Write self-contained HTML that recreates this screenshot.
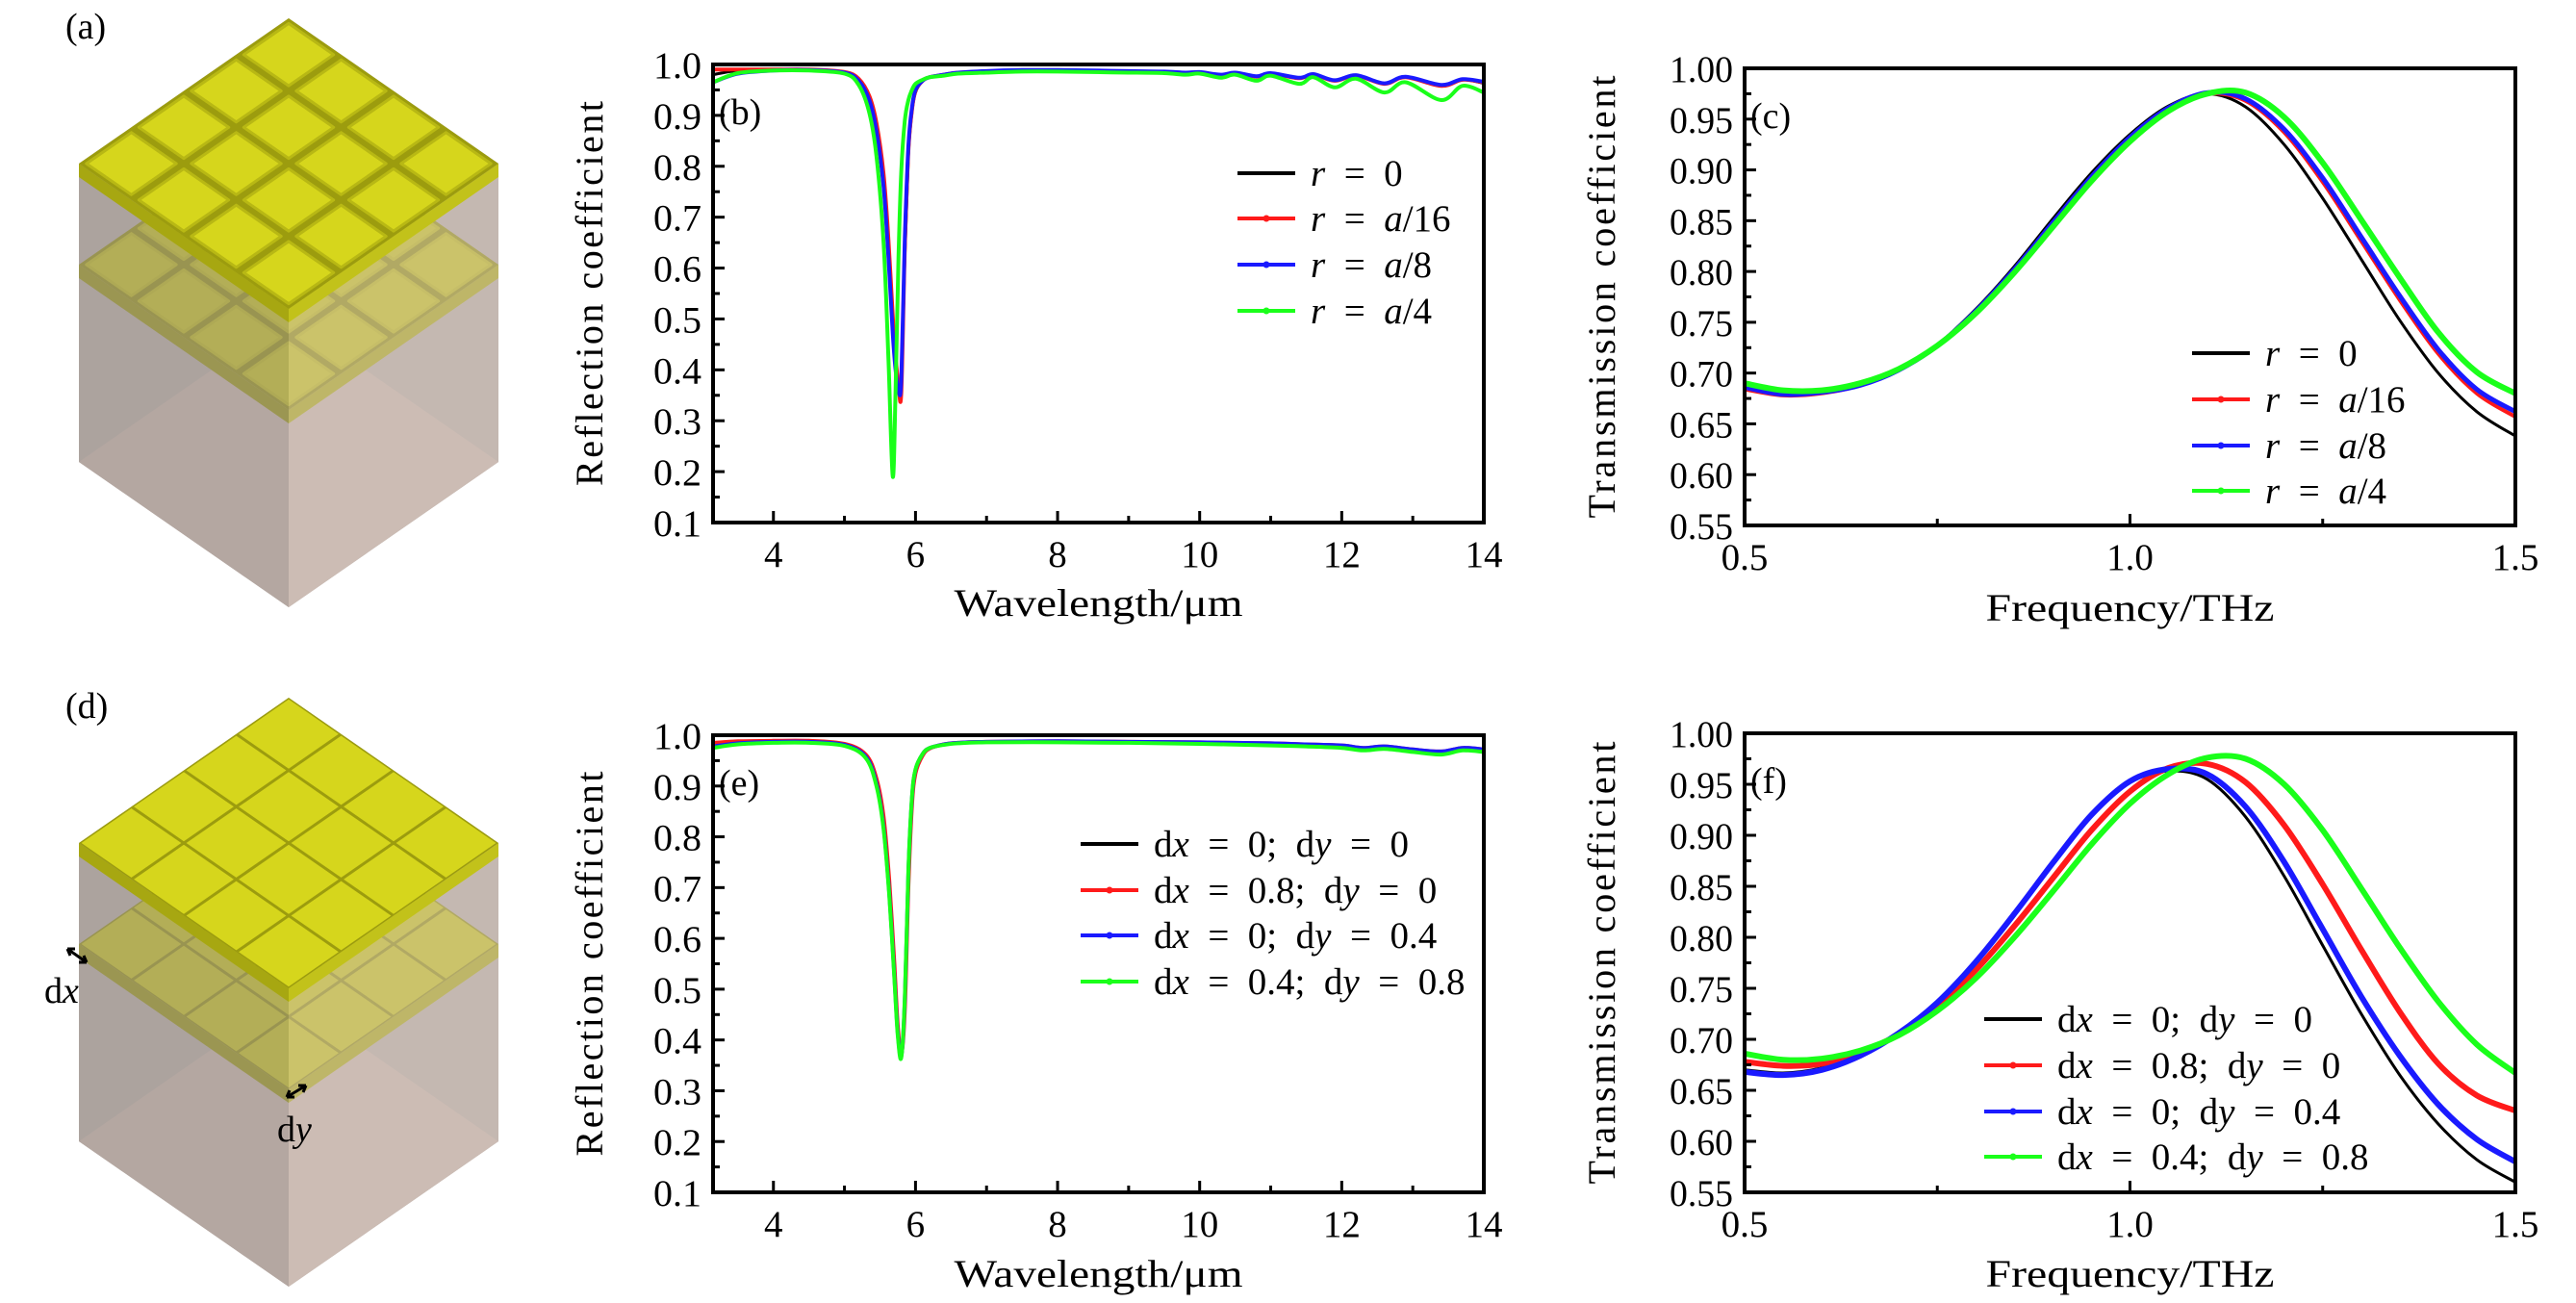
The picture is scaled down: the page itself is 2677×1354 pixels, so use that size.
<!DOCTYPE html>
<html><head><meta charset="utf-8"><style>
html,body{margin:0;padding:0;background:#fff}
svg{display:block}
text{font-family:"Liberation Serif","DejaVu Serif",serif;fill:#000}
</style></head><body>
<svg id="fig" width="2677" height="1354" viewBox="0 0 2677 1354" xmlns="http://www.w3.org/2000/svg">
<g id="illus"></g>
<g id="plots"></g>
</svg>
<script>
// ---------- data ----------
const wlB = [3.15,3.5,4,4.5,5,5.2,5.35,5.45,5.55,5.62,5.68,5.72,5.76,5.8,5.85,5.9,5.95,6.0,6.1,6.2,6.4,6.6,7,7.5,8,8.5,9,9.5,9.8,10,10.3,10.5,10.8,11,11.4,11.6,11.9,12.2,12.6,12.9,13.4,13.7,14];
const rB_r0   = [0.980,0.988,0.990,0.990,0.985,0.970,0.935,0.880,0.780,0.650,0.500,0.420,0.370,0.360,0.620,0.820,0.905,0.945,0.968,0.975,0.980,0.984,0.986,0.988,0.988,0.987,0.986,0.985,0.983,0.984,0.979,0.983,0.976,0.982,0.973,0.980,0.968,0.978,0.962,0.975,0.958,0.970,0.963];
const rB_r16  = [0.990,0.990,0.990,0.990,0.985,0.972,0.938,0.885,0.785,0.655,0.505,0.425,0.372,0.355,0.640,0.830,0.910,0.948,0.968,0.975,0.980,0.984,0.986,0.988,0.988,0.987,0.986,0.985,0.983,0.984,0.979,0.983,0.976,0.982,0.973,0.980,0.968,0.978,0.962,0.975,0.958,0.970,0.965];
const rB_r8   = [0.965,0.982,0.988,0.989,0.984,0.968,0.930,0.870,0.760,0.620,0.470,0.400,0.360,0.380,0.660,0.840,0.915,0.950,0.968,0.975,0.980,0.984,0.987,0.989,0.989,0.988,0.987,0.986,0.984,0.985,0.980,0.984,0.977,0.983,0.974,0.981,0.969,0.979,0.963,0.976,0.960,0.971,0.966];
const rB_r4   = [0.965,0.983,0.988,0.988,0.982,0.960,0.905,0.820,0.650,0.420,0.190,0.360,0.620,0.790,0.890,0.930,0.950,0.962,0.970,0.975,0.978,0.982,0.984,0.986,0.986,0.985,0.984,0.983,0.980,0.982,0.974,0.980,0.968,0.978,0.962,0.975,0.955,0.972,0.945,0.965,0.930,0.958,0.945];

const fC = [0.5,0.55,0.6,0.65,0.7,0.75,0.8,0.85,0.9,0.95,1.0,1.05,1.1,1.15,1.2,1.25,1.3,1.35,1.4,1.45,1.5];
const tC_r0  = [.685,.679,.680,.688,.703,.728,.763,.805,.852,.897,.935,.963,.975,.962,.925,.872,.812,.752,.700,.662,.638];
const tC_r16 = [.684,.678,.680,.688,.703,.727,.761,.802,.848,.893,.932,.961,.975,.968,.937,.888,.830,.772,.719,.680,.657];
const tC_r8  = [.686,.679,.681,.688,.703,.727,.761,.802,.848,.893,.932,.961,.976,.970,.940,.892,.834,.776,.723,.684,.662];
const tC_r4  = [.690,.683,.683,.690,.704,.727,.759,.799,.844,.889,.928,.958,.975,.976,.952,.907,.851,.794,.740,.701,.680];

const wlE = [3.15,3.5,4,4.5,5,5.3,5.45,5.55,5.63,5.7,5.75,5.8,5.85,5.9,5.95,6.0,6.1,6.2,6.4,6.6,7,8,9,10,11,11.5,12,12.3,12.6,13,13.4,13.7,14];
const rE_0   = [0.982,0.986,0.988,0.988,0.982,0.960,0.910,0.830,0.700,0.540,0.420,0.370,0.470,0.720,0.870,0.930,0.962,0.975,0.982,0.985,0.987,0.988,0.987,0.986,0.984,0.982,0.980,0.975,0.978,0.972,0.968,0.975,0.972];
const rE_1   = [0.985,0.988,0.989,0.989,0.983,0.962,0.915,0.840,0.715,0.555,0.430,0.372,0.460,0.700,0.860,0.925,0.960,0.974,0.982,0.985,0.987,0.988,0.987,0.986,0.984,0.982,0.980,0.975,0.978,0.972,0.968,0.975,0.972];
const rE_2   = [0.978,0.984,0.987,0.987,0.981,0.958,0.905,0.820,0.690,0.530,0.415,0.368,0.480,0.730,0.875,0.932,0.963,0.975,0.982,0.985,0.987,0.988,0.987,0.986,0.984,0.982,0.980,0.975,0.978,0.972,0.968,0.975,0.972];
const rE_3   = [0.975,0.982,0.985,0.985,0.979,0.955,0.900,0.815,0.685,0.525,0.410,0.365,0.485,0.735,0.878,0.933,0.963,0.975,0.981,0.984,0.986,0.986,0.985,0.983,0.980,0.978,0.975,0.970,0.973,0.967,0.962,0.970,0.967];

const fF = [0.5,0.55,0.6,0.65,0.7,0.75,0.8,0.85,0.9,0.95,1.0,1.05,1.1,1.15,1.2,1.25,1.3,1.35,1.4,1.45,1.5];
const tF_0 = [.670,.667,.672,.685,.706,.736,.775,.822,.872,.920,.952,.963,.955,.918,.860,.792,.725,.665,.617,.582,.560];
const tF_1 = [.678,.674,.676,.687,.705,.732,.768,.811,.858,.905,.943,.966,.970,.952,.910,.852,.788,.727,.676,.645,.630];
const tF_2 = [.668,.665,.670,.684,.706,.736,.776,.823,.873,.920,.953,.965,.960,.928,.874,.808,.742,.684,.636,.602,.580];
const tF_3 = [.686,.680,.681,.689,.704,.728,.760,.800,.845,.891,.931,.960,.976,.975,.950,.905,.848,.790,.737,.695,.667];

const yTicksB = ["0.1","0.2","0.3","0.4","0.5","0.6","0.7","0.8","0.9","1.0"];
const xTicksB = ["4","6","8","10","12","14"];
const yTicksC = ["0.55","0.60","0.65","0.70","0.75","0.80","0.85","0.90","0.95","1.00"];
const xTicksC = ["0.5","1.0","1.5"];
const legR = ["r  =  0","r  =  a/16","r  =  a/8","r  =  a/4"];
const legD = ["dx  =  0;  dy  =  0","dx  =  0.8;  dy  =  0","dx  =  0;  dy  =  0.4","dx  =  0.4;  dy  =  0.8"];
const colors = ["#000000","#ff1a1a","#1a1aff","#1aff1a"];

const NS="http://www.w3.org/2000/svg";
function mk(tag,attrs,parent){const e=document.createElementNS(NS,tag);for(const k in attrs)e.setAttribute(k,attrs[k]);if(parent)parent.appendChild(e);return e;}

function smoothPath(pts){
  let d="M"+pts[0][0].toFixed(1)+","+pts[0][1].toFixed(1);
  for(let i=0;i<pts.length-1;i++){
    const p0=pts[i-1]||pts[i],p1=pts[i],p2=pts[i+1],p3=pts[i+2]||p2;
    const c1=[p1[0]+(p2[0]-p0[0])/6,p1[1]+(p2[1]-p0[1])/6];
    const c2=[p2[0]-(p3[0]-p1[0])/6,p2[1]-(p3[1]-p1[1])/6];
    d+="C"+c1[0].toFixed(1)+","+c1[1].toFixed(1)+" "+c2[0].toFixed(1)+","+c2[1].toFixed(1)+" "+p2[0].toFixed(1)+","+p2[1].toFixed(1);
  }
  return d;
}

function richLabel(t,txt){
  t.setAttribute("xml:space","preserve");
  t.style.whiteSpace="pre";
  const parts = txt.match(/[a-z]+|[^a-z]+/g);
  parts.forEach(p=>{
    if(/^[a-z]+$/.test(p)){
      if(p==="dx"||p==="dy"){ const s1=mk("tspan",{},t); s1.textContent="d"; const s2=mk("tspan",{"font-style":"italic"},t); s2.textContent=p[1]; }
      else { const s=mk("tspan",{"font-style":"italic"},t); s.textContent=p; }
    } else { const s=mk("tspan",{},t); s.textContent=p; }
  });
}

function plot(cfg){
  const root=document.getElementById("plots");
  const g=mk("g",{},root);
  
  
  const L=cfg.L,R=cfg.R,T=cfg.T,B=cfg.B;
  const sx=v=>L+(v-cfg.xmin)/(cfg.xmax-cfg.xmin)*(R-L);
  const sy=v=>B-(v-cfg.ymin)/(cfg.ymax-cfg.ymin)*(B-T);
  const cid="clip"+cfg.name;
  const cp=mk("clipPath",{id:cid},g); mk("rect",{x:L,y:T,width:R-L,height:B-T},cp);
  const lines=mk("g",{"clip-path":"url(#"+cid+")"},g);
  cfg.series.forEach((s,i)=>{
    const pts=cfg.x.map((xv,k)=>[sx(xv),sy(s[k])]);
    const p=mk("path",{d:smoothPath(pts),fill:"none",stroke:colors[i],"stroke-width":cfg.lw[i],"stroke-linejoin":"round"},lines);
    
    
  });
  const fr=mk("rect",{x:L,y:T,width:R-L,height:B-T,fill:"none",stroke:"#000","stroke-width":4},g);
  
  
  const yt=mk("g",{},g);
  
  
  cfg.yTicks.forEach((lab,i)=>{
    const v=parseFloat(lab), y=sy(v);
    mk("line",{x1:L,x2:L+12,y1:y,y2:y,stroke:"#000","stroke-width":3},yt);
    if(i<cfg.yTicks.length-1){const ym=sy(v+cfg.ystep/2); mk("line",{x1:L,x2:L+7,y1:ym,y2:ym,stroke:"#000","stroke-width":3},yt);}
    const t=mk("text",{x:L-12,y:y+14,"text-anchor":"end","font-size":39,"textLength":lab.length>3?66:50,"lengthAdjust":"spacingAndGlyphs"},yt); t.textContent=lab;
    
    
  });
  const xt=mk("g",{},g);
  
  
  cfg.xTicks.forEach(lab=>{
    const v=parseFloat(lab), x=sx(v);
    mk("line",{x1:x,x2:x,y1:B,y2:B-12,stroke:"#000","stroke-width":3},xt);
    const t=mk("text",{x:x,y:B+46,"text-anchor":"middle","font-size":39},xt); t.textContent=lab;
    
    
  });
  cfg.xMinor.forEach(v=>{const x=sx(v); mk("line",{x1:x,x2:x,y1:B,y2:B-7,stroke:"#000","stroke-width":3},xt);});
  const xl=mk("text",{x:(L+R)/2,y:cfg.xTitleY,"text-anchor":"middle","font-size":40,"textLength":cfg.xTitleW,"lengthAdjust":"spacingAndGlyphs"},g); xl.textContent=cfg.xTitle;
  
  
  const yl=mk("text",{x:0,y:0,"text-anchor":"middle","font-size":40,"textLength":cfg.yTitleW,"lengthAdjust":"spacing",transform:"translate("+cfg.yTitleX+","+((T+B)/2)+") rotate(-90)"},g); yl.textContent=cfg.yTitle;
  
  
  const pl=mk("text",{x:L+6,y:T+62,"font-size":38},g); pl.textContent=cfg.panel;
  
  
  const lg=mk("g",{},g);
  
  
  cfg.leg.forEach((lab,i)=>{
    const y=cfg.legY[i];
    const e=mk("g",{},lg);
    
    
    mk("line",{x1:cfg.legX,x2:cfg.legX+60,y1:y,y2:y,stroke:colors[i],"stroke-width":4},e);
    if(i>0) mk("circle",{cx:cfg.legX+30,cy:y,r:3.5,fill:colors[i]},e);
    const t=mk("text",{x:cfg.legX+76,y:y+13,"font-size":39},e); richLabel(t,lab);
  });
}

plot({name:"plot-b",L:741,R:1542,T:67,B:543,xmin:3.15,xmax:14,ymin:0.1,ymax:1.0,ystep:0.1,x:wlB,series:[rB_r0,rB_r16,rB_r8,rB_r4],lw:[3,4,4,4],
  yTicks:yTicksB,xTicks:xTicksB,xMinor:[5,7,9,11,13],xTitle:"Wavelength/μm",xTitleW:300,xTitleY:640,yTitle:"Reflection coefficient",yTitleW:400,yTitleX:626,panel:"(b)",
  leg:legR,legX:1286,legY:[180,227,275,323]});
plot({name:"plot-c",L:1813,R:2614,T:71,B:546,xmin:0.5,xmax:1.5,ymin:0.55,ymax:1.0,ystep:0.05,x:fC,series:[tC_r0,tC_r16,tC_r8,tC_r4],lw:[3,4,5,6],
  yTicks:yTicksC,xTicks:xTicksC,xMinor:[0.75,1.25],xTitle:"Frequency/THz",xTitleW:300,xTitleY:645,yTitle:"Transmission coefficient",yTitleW:460,yTitleX:1678,panel:"(c)",
  leg:legR,legX:2278,legY:[367,415,463,510]});
plot({name:"plot-e",L:741,R:1542,T:764,B:1239,xmin:3.15,xmax:14,ymin:0.1,ymax:1.0,ystep:0.1,x:wlE,series:[rE_0,rE_1,rE_2,rE_3],lw:[3,4,4,4],
  yTicks:yTicksB,xTicks:xTicksB,xMinor:[5,7,9,11,13],xTitle:"Wavelength/μm",xTitleW:300,xTitleY:1337,yTitle:"Reflection coefficient",yTitleW:400,yTitleX:626,panel:"(e)",
  leg:legD,legX:1123,legY:[877,925,972,1020]});
plot({name:"plot-f",L:1813,R:2614,T:762,B:1239,xmin:0.5,xmax:1.5,ymin:0.55,ymax:1.0,ystep:0.05,x:fF,series:[tF_0,tF_1,tF_2,tF_3],lw:[3,6,6,6],
  yTicks:yTicksC,xTicks:xTicksC,xMinor:[0.75,1.25],xTitle:"Frequency/THz",xTitleW:300,xTitleY:1337,yTitle:"Transmission coefficient",yTitleW:460,yTitleX:1678,panel:"(f)",
  leg:legD,legX:2062,legY:[1059,1107,1155,1202]});

// ---------- illustrations ----------
function cube(dy,rounded,label){
  const root=document.getElementById("illus");
  const g=mk("g",{},root);
  
  
  const cx=300,W=218,H=151;
  const P=(x,y)=>x.toFixed(1)+","+(y+dy).toFixed(1);
  const topC=170, botC=480;
  mk("polygon",{points:[P(cx-W,topC),P(cx,topC-H),P(cx+W,topC),P(cx+W,botC),P(cx,botC+H),P(cx-W,botC)].join(" "),fill:"#b4aca7"},g);
  mk("polygon",{points:[P(cx-W,botC),P(cx,botC-H),P(cx+W,botC),P(cx,botC+H)].join(" "),fill:"#c4b4ac"},g);
  function layer(cy,bright){
    const t=14;
    const top=[cx,cy-H],right=[cx+W,cy],bot=[cx,cy+H],left=[cx-W,cy];
    mk("polygon",{points:[P(left[0],left[1]),P(bot[0],bot[1]),P(bot[0],bot[1]+t),P(left[0],left[1]+t)].join(" "),fill:bright?"#a7a711":"#93930f"},g);
    mk("polygon",{points:[P(bot[0],bot[1]),P(right[0],right[1]),P(right[0],right[1]+t),P(bot[0],bot[1]+t)].join(" "),fill:bright?"#c2c21a":"#a9a914"},g);
    mk("polygon",{points:[P(...top),P(...right),P(...bot),P(...left)].join(" "),fill:bright?"#9c9c0e":"#8e8e0c"},g);
    const gap=rounded?0.018:0.006;
    for(let i=0;i<4;i++)for(let j=0;j<4;j++){
      const pt=(u,v)=>P(top[0]+u*(right[0]-top[0])+v*(left[0]-top[0]), top[1]+u*(right[1]-top[1])+v*(left[1]-top[1]));
      const u0=i/4+gap,u1=(i+1)/4-gap,v0=j/4+gap,v1=(j+1)/4-gap;
      mk("polygon",{points:[pt(u0,v0),pt(u1,v0),pt(u1,v1),pt(u0,v1)].join(" "),fill:bright?"#d6d61c":"#c3c318","stroke":rounded?"#b8b814":"none","stroke-width":3,"stroke-linejoin":"round"},g);
    }
  }
  layer(275,false);
  mk("polygon",{points:[P(cx-W,topC),P(cx,topC+H),P(cx,botC+H),P(cx-W,botC)].join(" "),fill:"#a39a95","fill-opacity":0.5},g);
  mk("polygon",{points:[P(cx,topC+H),P(cx+W,topC),P(cx+W,botC),P(cx,botC+H)].join(" "),fill:"#d3c3bb","fill-opacity":0.5},g);
  layer(topC,true);
  const t=mk("text",{x:68,y:40+dy,"font-size":38},g); t.textContent=label;
  
  
}
cube(0,true,"(a)");
cube(706,false,"(d)");
(function(){
  const root=document.getElementById("illus");
  const a=mk("g",{},root);
  
  
  mk("path",{d:"M70,986 L90,1000 M70,986 l8,0 M70,986 l3,7 M90,1000 l-8,0 M90,1000 l-3,-7",stroke:"#000","stroke-width":3,fill:"none"},a);
  const t1=mk("text",{x:46,y:1042,"font-size":38},a); richLabel(t1,"dx");
  mk("path",{d:"M298,1140 L318,1128 M298,1140 l8,0 M298,1140 l3,-7 M318,1128 l-8,0 M318,1128 l-3,7",stroke:"#000","stroke-width":3,fill:"none"},a);
  const t2=mk("text",{x:288,y:1186,"font-size":38},a); richLabel(t2,"dy");
})();
</script>
</body></html>
